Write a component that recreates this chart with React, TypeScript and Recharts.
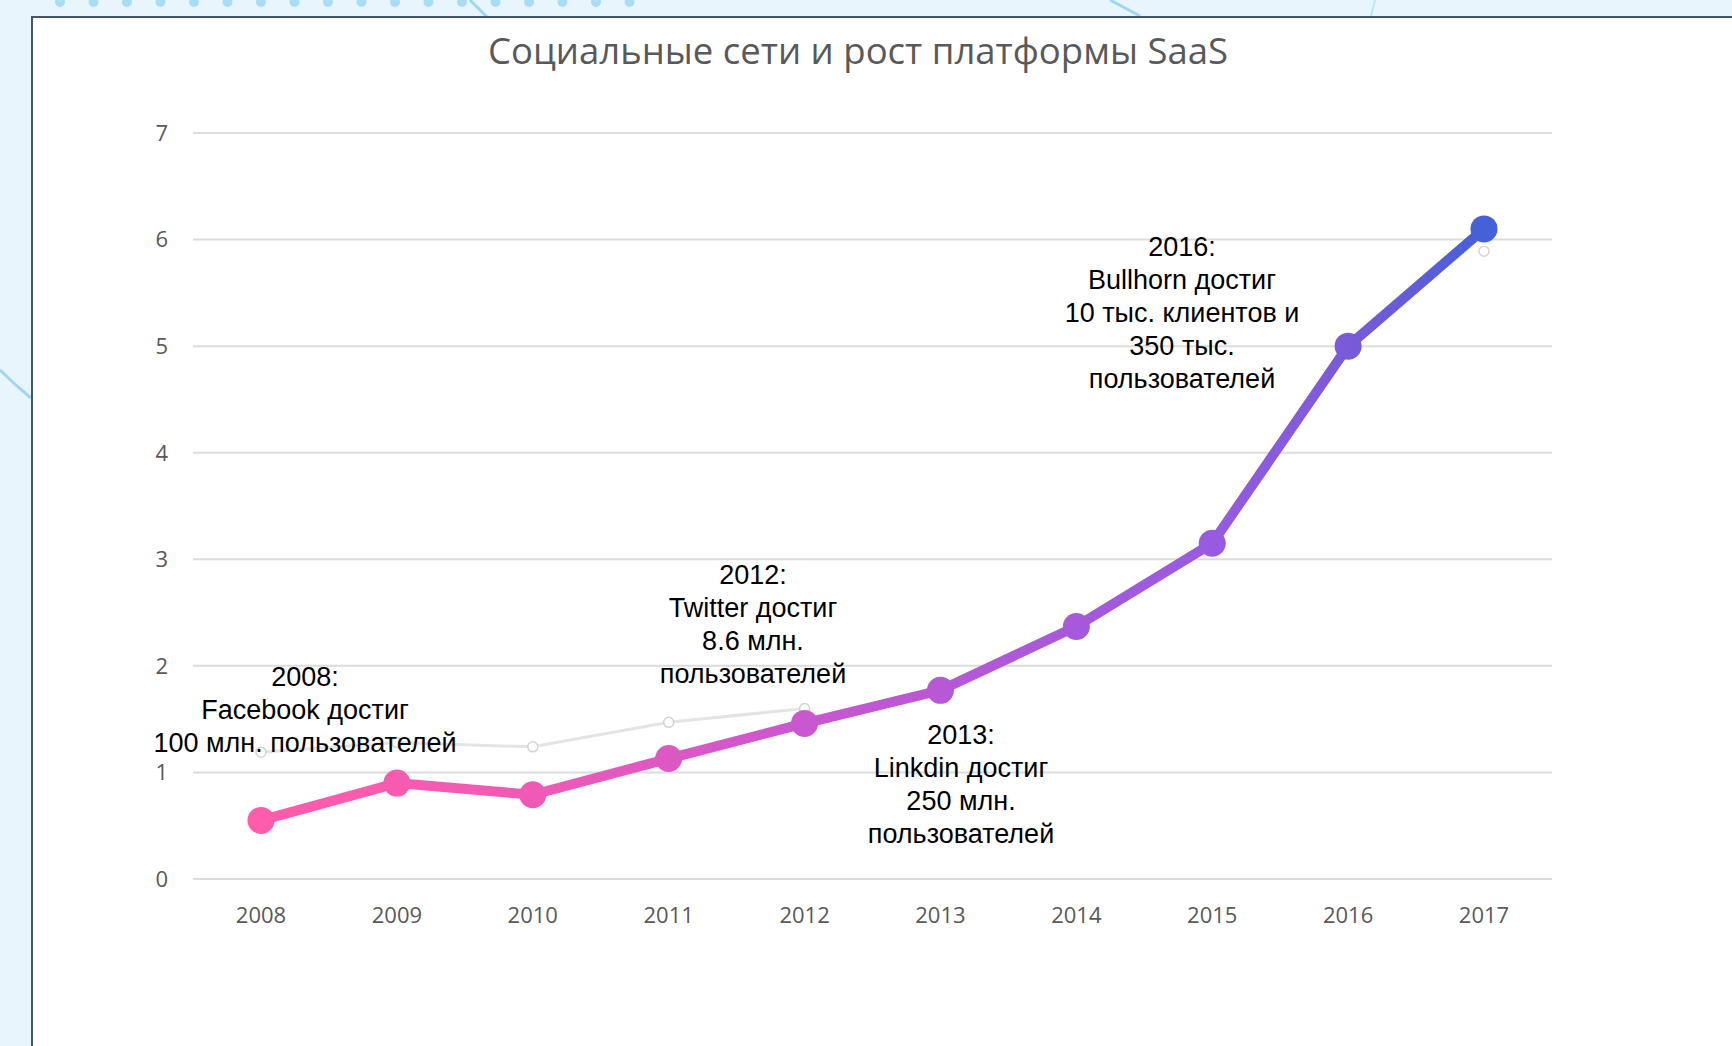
import { LineChart, Line, XAxis, YAxis, CartesianGrid } from "recharts";

const years = ["2008", "2009", "2010", "2011", "2012", "2013", "2014", "2015", "2016", "2017"];
const growth = [0.55, 0.9, 0.79, 1.13, 1.46, 1.77, 2.37, 3.15, 5.0, 6.1];
const secondary = [1.19, 1.28, 1.24, 1.47, 1.6, null, null, null, null, 5.89];
const yTicks = [0, 1, 2, 3, 4, 5, 6, 7];

const notes = [
  { lines: ["2008:", "Facebook достиг", "100 млн. пользователей"], x: 305, y: 661 },
  { lines: ["2012:", "Twitter достиг", "8.6 млн.", "пользователей"], x: 753, y: 559 },
  { lines: ["2013:", "Linkdin достиг", "250 млн.", "пользователей"], x: 961, y: 719 },
  { lines: ["2016:", "Bullhorn достиг", "10 тыс. клиентов и", "350 тыс.", "пользователей"], x: 1182, y: 231 },
];

const data = years.map((year, i) => ({ year, growth: growth[i], secondary: secondary[i] }));

const W = 1732;
const H = 1046;
const PLOT_LEFT = 193;
const PLOT_RIGHT = 1552;

const axisTick = { fill: "#595959", fontSize: 22, fontFamily: "Open Sans" };

function Decor() {
  const dots = [];
  for (let i = 0; i < 18; i++) dots.push(60 + i * 33.5);
  return (
    <svg width={W} height={H} style={{ position: "absolute", left: 0, top: 0 }}>
      <rect width={W} height={H} fill="#e8f5fc" />
      {dots.map((x) => (
        <circle key={x} cx={x} cy={2} r={5} fill="#a9dcf5" />
      ))}
      <path d="M470 0 Q480 10 488 18" stroke="#9fd6f2" strokeWidth={3} fill="none" />
      <path d="M1110 0 Q1125 8 1140 16" stroke="#9fd6f2" strokeWidth={3} fill="none" />
      <path d="M1375 0 L1371 16" stroke="#bfe4f7" strokeWidth={2} fill="none" />
      <path d="M0 370 Q15 385 31 398" stroke="#9fd6f2" strokeWidth={3} fill="none" />
    </svg>
  );
}

export default function App() {
  return (
    <div style={{ position: "absolute", left: 0, top: 0, width: W, height: H, overflow: "hidden" }}>
      <Decor />
      <div
        style={{
          position: "absolute",
          left: 31,
          top: 16,
          width: W,
          height: H,
          background: "#ffffff",
          border: "2px solid #44546a",
        }}
      />
      <div
        style={{
          position: "absolute",
          left: 0,
          width: 1716,
          top: 25,
          textAlign: "center",
          fontFamily: "Open Sans",
          fontSize: 36.5,
          color: "#595959",
        }}
      >
        Социальные сети и рост платформы SaaS
      </div>
      <div style={{ position: "absolute", left: 0, top: 0 }}>
        <LineChart width={W} height={H} data={data} margin={{ top: 133, right: W - PLOT_RIGHT, bottom: 107, left: 130 }}>
          <defs>
            <linearGradient id="growthGrad" gradientUnits="userSpaceOnUse" x1={PLOT_LEFT} y1={0} x2={PLOT_RIGHT} y2={0}>
              <stop offset="0.05" stopColor="#ff5cab" />
              <stop offset="0.25" stopColor="#ef5ab6" />
              <stop offset="0.45" stopColor="#c957d0" />
              <stop offset="0.65" stopColor="#a659da" />
              <stop offset="0.75" stopColor="#985be0" />
              <stop offset="0.85" stopColor="#7a5ad8" />
              <stop offset="0.95" stopColor="#4560d8" />
            </linearGradient>
          </defs>
          <CartesianGrid vertical={false} stroke="#dcdcdc" strokeWidth={2} />
          <XAxis
            dataKey="year"
            axisLine={false}
            tickLine={false}
            tickSize={0}
            tickMargin={28}
            tick={axisTick}
            height={60}
            padding={{ left: 68, right: 68 }}
          />
          <YAxis
            domain={[0, 7]}
            ticks={yTicks}
            axisLine={false}
            tickLine={false}
            tickSize={0}
            tickMargin={25}
            tick={axisTick}
            width={63}
          />
          <Line
            dataKey="secondary"
            stroke="#e4e4e4"
            strokeWidth={3}
            dot={{ r: 5, fill: "#ffffff", stroke: "#d4d4d4", strokeWidth: 1.5 }}
            isAnimationActive={false}
            connectNulls={false}
          />
          <Line
            dataKey="growth"
            stroke="url(#growthGrad)"
            strokeWidth={10}
            dot={{ r: 13.5, fill: "url(#growthGrad)", stroke: "none" }}
            isAnimationActive={false}
          />
        </LineChart>
      </div>
      {notes.map((n, i) => (
        <div
          key={i}
          style={{
            position: "absolute",
            left: n.x - 220,
            width: 440,
            top: n.y,
            textAlign: "center",
            fontFamily: "Liberation Sans",
            fontSize: 27,
            lineHeight: "33px",
            color: "#000000",
            whiteSpace: "nowrap",
          }}
        >
          {n.lines.map((l, j) => (
            <div key={j}>{l}</div>
          ))}
        </div>
      ))}
    </div>
  );
}
